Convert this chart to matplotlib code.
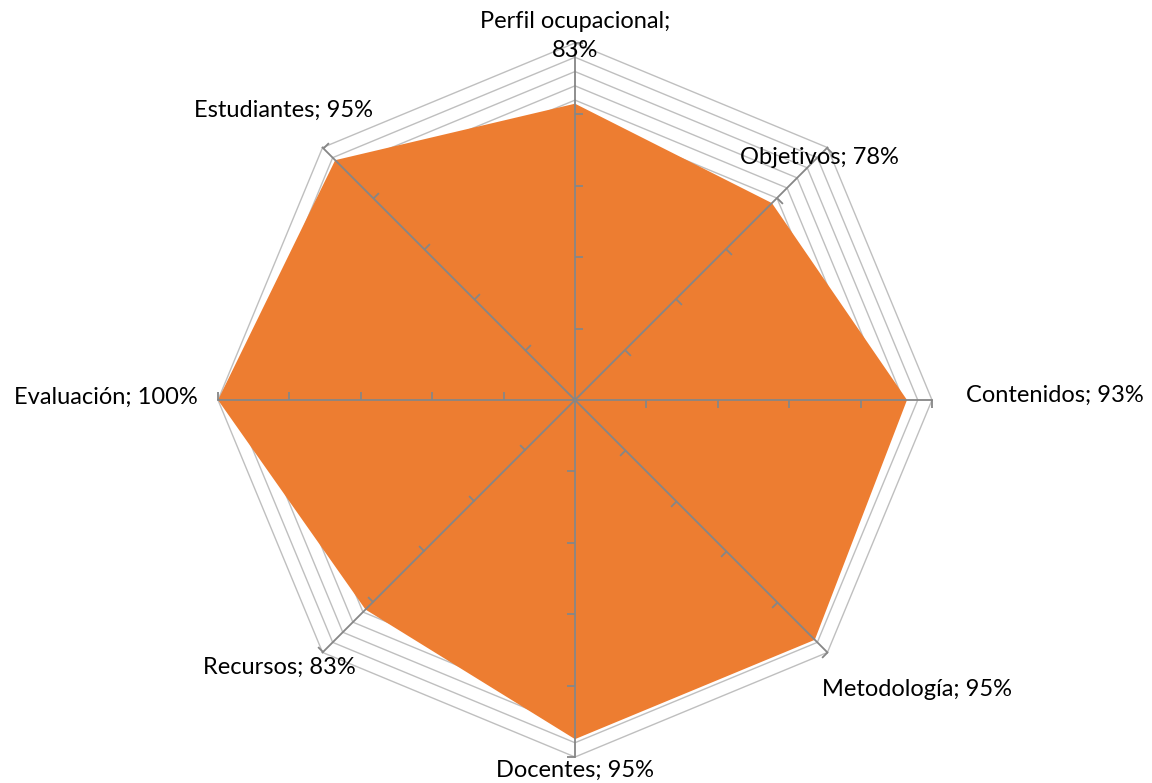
import numpy as np
import matplotlib
matplotlib.use("Agg")
import matplotlib.pyplot as plt
from matplotlib.markers import MarkerStyle
from matplotlib.path import Path
from matplotlib.transforms import Affine2D

# radar data, clockwise from the top
categories = ["Perfil ocupacional", "Objetivos", "Contenidos", "Metodología",
              "Docentes", "Recursos", "Evaluación", "Estudiantes"]
values = [0.83, 0.78, 0.93, 0.95, 0.95, 0.83, 1.00, 0.95]
label_texts = ["Perfil ocupacional;\n83%", "Objetivos; 78%", "Contenidos; 93%",
               "Metodología; 95%", "Docentes; 95%", "Recursos; 83%",
               "Evaluación; 100%", "Estudiantes; 95%"]
grid_levels = np.arange(0.04, 1.0001, 0.04)
tick_levels = [0.2, 0.4, 0.6, 0.8, 1.0]

ORANGE = "#ED7D31"
GRID = "#BFBFBF"
SPOKE = "#868686"

plt.rcParams["font.family"] = ["Lato", "DejaVu Sans"]

W, H = 1152, 783
fig = plt.figure(figsize=(W / 100, H / 100), dpi=100)
cx, cy, R = 575, 400, 357
ax = fig.add_axes([(cx - R) / W, (H - cy - R) / H, 2 * R / W, 2 * R / H],
                  projection="polar")
ax.set_theta_zero_location("N")
ax.set_theta_direction(-1)
ax.set_ylim(0, 1)
ax.grid(False)
ax.spines["polar"].set_visible(False)
ax.set_xticks([])
ax.set_yticks([])
ax.patch.set_visible(False)

n = len(categories)
theta = np.arange(n) * 2 * np.pi / n
theta_c = np.append(theta, theta[0])

# octagonal gridlines
for lv in grid_levels:
    ax.plot(theta_c, [lv] * (n + 1), color=GRID, lw=1.0, zorder=1, clip_on=False)

# filled series
vals_c = values + values[:1]
ax.fill(theta_c, vals_c, color=ORANGE, zorder=2, lw=0)

# spokes and tick marks
for i, t in enumerate(theta):
    ax.plot([t, t], [0, 1], color=SPOKE, lw=1.3, zorder=3, clip_on=False)
    deg = np.degrees(t)
    mk = MarkerStyle(Path([(0, 0), (1, 0)]), transform=Affine2D().rotate_deg(-deg))
    ax.plot([t] * len(tick_levels), tick_levels, ls="none", marker=mk,
            markersize=11, markeredgewidth=1.3, color=SPOKE, zorder=3, clip_on=False)

# data labels (offsets in pixels from the data point)
offsets = [(0, 68), (48, 46), (148, 5), (102, -50),
           (0, -31), (-86, -58), (-112, 3), (-52, 50)]
for t, v, txt, off in zip(theta, values, label_texts, offsets):
    ax.annotate(txt, xy=(t, v), xytext=off, textcoords="offset pixels",
                ha="center", va="center", fontsize=17, color="#000000",
                linespacing=1.45, annotation_clip=False)

fig.savefig("out.png", dpi=100)
